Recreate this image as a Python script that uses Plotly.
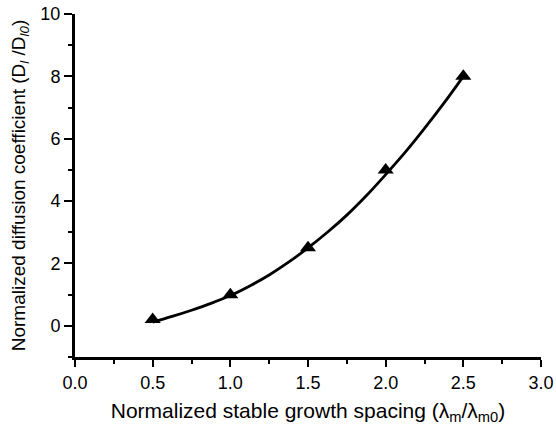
import plotly.graph_objects as go

# measured points
x_pts = [0.5, 1.0, 1.5, 2.0, 2.5]
y_pts = [0.2, 1.0, 2.5, 5.0, 8.0]

# fitted curve
x_fit = [0.5, 0.625, 0.75, 0.875, 1.0, 1.125, 1.25, 1.375, 1.5, 1.625, 1.75, 1.875, 2.0, 2.125, 2.25, 2.375, 2.5]
y_fit = [0.12, 0.3, 0.5, 0.72, 0.97, 1.28, 1.63, 2.04, 2.5, 3.0, 3.55, 4.17, 4.85, 5.56, 6.33, 7.14, 8.0]

x_ticks = [0.0, 0.5, 1.0, 1.5, 2.0, 2.5, 3.0]
y_ticks = [0, 2, 4, 6, 8, 10]

fig = go.Figure()
fig.add_trace(go.Scatter(x=x_fit, y=y_fit, mode="lines",
                         line=dict(color="black", width=2.8, shape="spline"),
                         showlegend=False, hoverinfo="skip"))
fig.add_trace(go.Scatter(x=x_pts, y=y_pts, mode="markers",
                         marker=dict(symbol="triangle-up", size=14, color="black"),
                         showlegend=False))

font = dict(family="Liberation Sans, Arial, sans-serif", color="black")

fig.update_layout(
    width=556, height=434,
    margin=dict(l=75, r=15, t=14, b=77),
    paper_bgcolor="white", plot_bgcolor="white",
    font=dict(size=18, **font),
    xaxis=dict(range=[0, 3], tickvals=x_ticks, ticktext=[f"{v:.1f}" for v in x_ticks],
               showline=True, linecolor="black", linewidth=3,
               ticks="outside", ticklen=7, tickwidth=2, tickcolor="black",
               minor=dict(dtick=0.25, tick0=0, ticks="outside", ticklen=4, tickwidth=2, tickcolor="black"),
               showgrid=False, zeroline=False, automargin=False,
               tickfont=dict(size=18, **font),
               title=dict(text="Normalized stable growth spacing (λ<sub>m</sub>/λ<sub>m0</sub>)",
                          font=dict(size=21, **font), standoff=12)),
    yaxis=dict(range=[-1, 10], tickvals=y_ticks, ticktext=[str(v) for v in y_ticks],
               showline=True, linecolor="black", linewidth=3,
               ticks="outside", ticklen=8, tickwidth=2, tickcolor="black",
               minor=dict(dtick=1, tick0=0, ticks="outside", ticklen=4, tickwidth=2, tickcolor="black"),
               showgrid=False, zeroline=False, automargin=False,
               tickfont=dict(size=18, **font),
               title=dict(text="Normalized diffusion coefficient (D<sub><i>l</i></sub> /D<sub><i>l0</i></sub>)",
                          font=dict(size=19, **font), standoff=10)),
)

fig.write_html("out.html")
